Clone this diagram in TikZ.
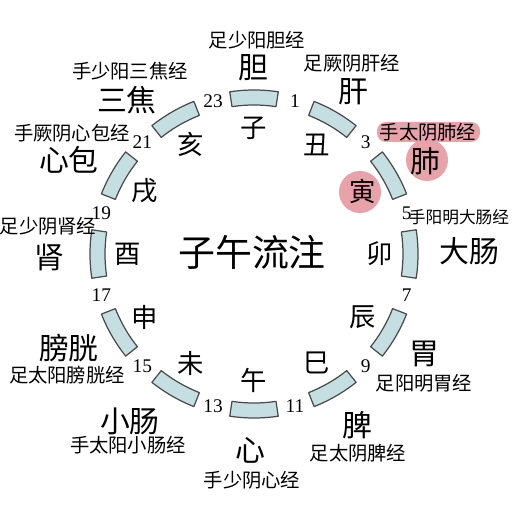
\documentclass[tikz,border=0pt]{standalone}
\usepackage{fontspec}
\setmainfont{Liberation Serif}
\newfontfamily\cjk{Noto Sans CJK SC}
\usepackage{tikz}
\definecolor{segfill}{HTML}{C5DEE2}
\definecolor{segline}{HTML}{4A4A4A}
\definecolor{pinkhl}{HTML}{E8A2AA}

\begin{document}
\begin{tikzpicture}[x=0.02cm,y=0.02cm,
          every node/.style={inner sep=0pt},
          seg/.style={draw=segline,fill=segfill,line width=0.7pt,line join=round},
          branch/.style={font=\cjk\fontsize{15}{15}\selectfont},
          organ/.style={font=\cjk\fontsize{17}{17}\selectfont},
          meridian/.style={font=\cjk\fontsize{11}{11}\selectfont},
          hour/.style={font=\fontsize{11}{11}\selectfont},
          title/.style={font=\cjk\fontsize{21}{21}\selectfont},
          hl/.style={fill=pinkhl},
      ]
        \useasboundingbox (-254,-259) rectangle (259,254);
        % pink marks round the lung hour
        \fill[hl] (106,62) circle[radius=21];
        \fill[hl] (173,94) circle[radius=21];
        \fill[hl,rounded corners=5pt] (123,112) rectangle (226,132);
        % ring of the twelve hours
        \foreach \a in {90,60,...,-240}
          \draw[seg] (\a-8.5:149) -- (\a-8.5:164)
            arc[start angle=\a-8.5,end angle=\a+8.5,radius=164]
            -- (\a+8.5:149)
            arc[start angle=\a+8.5,end angle=\a-8.5,radius=149] -- cycle;
        \foreach \h in {1,3,...,23}
          \node[hour] (h\h) at ({90-15*\h}:158) {\h};
        % earthly branches
        \node[branch] (zi)   at (90:126)   {子};
        \node[branch] (chou) at (60:126)   {丑};
        \node[branch] (yin)  at (30:126)   {寅};
        \node[branch] (mao)  at (0:126)    {卯};
        \node[branch] (chen) at (-30:126)  {辰};
        \node[branch] (si)   at (-60:126)  {巳};
        \node[branch] (wu)   at (-90:126)  {午};
        \node[branch] (wei)  at (-120:126) {未};
        \node[branch] (shen) at (-150:126) {申};
        \node[branch] (you)  at (180:126)  {酉};
        \node[branch] (xu)   at (150:126)  {戌};
        \node[branch] (hai)  at (120:126)  {亥};
        \node[title] (center) at (-2,2) {子午流注};
        % organs
        \node[organ] (dan)     at (-1,186)    {胆};
        \node[organ] (gan)     at (99,162)    {肝};
        \node[organ] (fei)     at (171,93)    {肺};
        \node[organ] (dachang) at (215,3)     {大肠};
        \node[organ] (weiorg)  at (170,-100)  {胃};
        \node[organ] (pi)      at (103,-171)  {脾};
        \node[organ] (xin)     at (-4,-196)   {心};
        \node[organ] (xiaochang) at (-124,-167) {小肠};
        \node[organ] (pangguang) at (-185,-94)  {膀胱};
        \node[organ] (shenorg) at (-205,-3)   {肾};
        \node[organ] (xinbao)  at (-185,94)   {心包};
        \node[organ] (sanjiao) at (-127,154)  {三焦};
        % meridians
        \node[meridian] (m1)  at (3,214)     {足少阳胆经};
        \node[meridian] (m2)  at (98,191)    {足厥阴肝经};
        \node[meridian] (m3)  at (174,122)   {手太阴肺经};
        \node[meridian,font=\cjk\fontsize{9.5}{9.5}\selectfont] (m4) at (205,37) {手阳明大肠经};
        \node[meridian] (m5)  at (170,-129)  {足阳明胃经};
        \node[meridian] (m6)  at (104,-199)  {足太阴脾经};
        \node[meridian] (m7)  at (-2,-226)   {手少阴心经};
        \node[meridian] (m8)  at (-126,-191) {手太阳小肠经};
        \node[meridian] (m9)  at (-187,-121) {足太阳膀胱经};
        \node[meridian] (m10) at (-206,28)   {足少阴肾经};
        \node[meridian] (m11) at (-182,121)  {手厥阴心包经};
        \node[meridian] (m12) at (-124,183)  {手少阳三焦经};
      \end{tikzpicture}
\end{document}
